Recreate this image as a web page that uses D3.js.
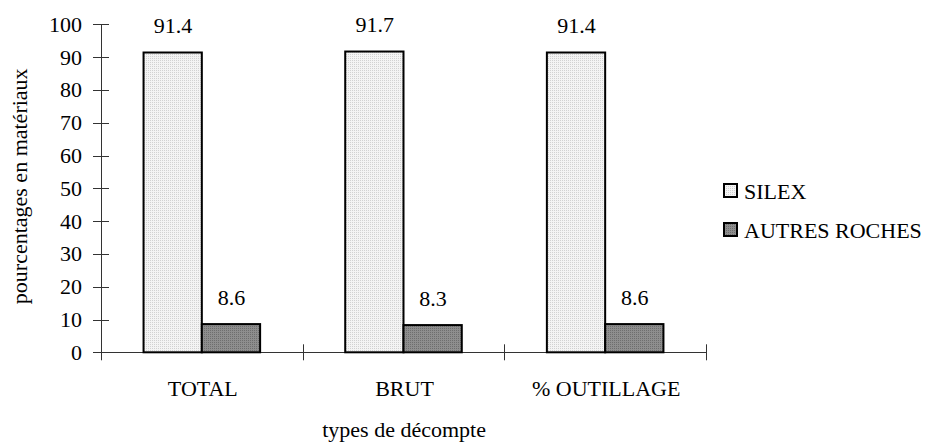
<!DOCTYPE html>
<html><head><meta charset="utf-8"><script src="https://cdn.jsdelivr.net/npm/d3@7"></script></head>
<body style="margin:0">
<script>
const categories = ["TOTAL", "BRUT", "% OUTILLAGE"];
const seriesNames = ["SILEX", "AUTRES ROCHES"];
const silexValues = [91.4, 91.7, 91.4];
const autresValues = [8.6, 8.3, 8.6];
const yTicks = [0, 10, 20, 30, 40, 50, 60, 70, 80, 90, 100];
const yTitle = "pourcentages en matériaux";
const xTitle = "types de décompte";

const svg = d3.select("body").append("svg").attr("width", 939).attr("height", 444);

const defs = svg.append("defs");
function pattern(id, bg, dot) {
  const p = defs.append("pattern").attr("id", id).attr("width", 2).attr("height", 2)
    .attr("patternUnits", "userSpaceOnUse");
  p.append("rect").attr("width", 2).attr("height", 2).attr("fill", bg);
  p.append("rect").attr("width", 1).attr("height", 1).attr("fill", dot);
}
pattern("pSilex", "#f4f4f4", "#d2d2d2");
pattern("pAutres", "#8e8e8e", "#6e6e6e");
const fills = ["url(#pSilex)", "url(#pAutres)"];

const pLeft = 101, pRight = 706, pTop = 24.3, pBottom = 352.3;
const x0 = d3.scaleBand().domain(categories).range([pLeft, pRight]).padding(0);
const x1 = d3.scaleBand().domain(seriesNames).range([0, x0.bandwidth()]).paddingInner(0).paddingOuter(0.73);
const y = d3.scaleLinear().domain([0, 100]).range([pBottom, pTop]);
const data = categories.map((c, i) => ({cat: c, vals: [silexValues[i], autresValues[i]]}));

// axes lines
svg.append("line").attr("x1", pLeft + 0.5).attr("x2", pLeft + 0.5).attr("y1", y(100)).attr("y2", pBottom + 8).attr("stroke", "#333");
svg.selectAll("line.yt").data(yTicks).enter().append("line").attr("class", "yt")
  .attr("x1", pLeft - 8).attr("x2", pLeft + 8)
  .attr("y1", d => Math.round(y(d)) + 0.5).attr("y2", d => Math.round(y(d)) + 0.5).attr("stroke", "#333");
svg.append("line").attr("x1", pLeft).attr("x2", pRight).attr("y1", Math.round(pBottom) + 0.5).attr("y2", Math.round(pBottom) + 0.5).attr("stroke", "#333");
const catEdges = categories.map(c => x0(c) + x0.bandwidth());
svg.selectAll("line.xt").data(catEdges).enter().append("line").attr("class", "xt")
  .attr("x1", d => Math.round(d) + 0.5).attr("x2", d => Math.round(d) + 0.5)
  .attr("y1", pBottom - 8).attr("y2", pBottom + 8).attr("stroke", "#333");

// bars
data.forEach(d => {
  d.vals.forEach((v, j) => {
    svg.append("rect").attr("x", x0(d.cat) + x1(seriesNames[j])).attr("width", x1.bandwidth())
      .attr("y", y(v)).attr("height", y(0) - y(v))
      .attr("fill", fills[j]).attr("stroke", "#000").attr("stroke-width", 2);
  });
});

// all texts: {t, x, y, anchor, rot}
const texts = [];
yTicks.forEach(v => texts.push({t: String(v), x: 82, y: y(v) + 7.5, a: "end"}));
categories.forEach(c => texts.push({t: c, x: x0(c) + x0.bandwidth() / 2 + 1, y: 396, a: "middle"}));
data.forEach(d => d.vals.forEach((v, j) => texts.push({
  t: v.toFixed(1), x: x0(d.cat) + x1(seriesNames[j]) + x1.bandwidth() / 2 + 0.4, y: y(v) - 19.5, a: "middle"})));
texts.push({t: xTitle, x: (pLeft + pRight) / 2 + 0.6, y: 437, a: "middle"});
seriesNames.forEach((s, i) => texts.push({t: s, x: 744, y: 198.5 + i * 39, a: "start"}));

svg.selectAll("text.lbl").data(texts).enter().append("text").attr("class", "lbl")
  .attr("x", 10).attr("y", d => d.y).attr("font-size", 22)
  .style("font-family", d => `"Liberation Serif"`).text(d => d.t)
  .each(function (d) {
    const w = this.getComputedTextLength();
    const x = d.a === "middle" ? d.x - w / 2 : d.a === "end" ? d.x - w : d.x;
    d3.select(this).attr("x", x);
  });

// rotated title
const yt = svg.append("text").attr("x", 0).attr("y", 0).attr("font-size", 22)
  .style("font-family", d => `"Liberation Serif"`).text(yTitle);
const yw = yt.node().getComputedTextLength();
yt.attr("x", -yw / 2).attr("transform", `translate(27,${(pTop + pBottom) / 2 - 2}) rotate(-90)`);

// legend squares
seriesNames.forEach((s, i) => {
  svg.append("rect").attr("x", 724).attr("y", 184 + i * 39).attr("width", 13).attr("height", 13)
    .attr("fill", fills[i]).attr("stroke", "#000").attr("stroke-width", 2);
});
</script></body></html>
